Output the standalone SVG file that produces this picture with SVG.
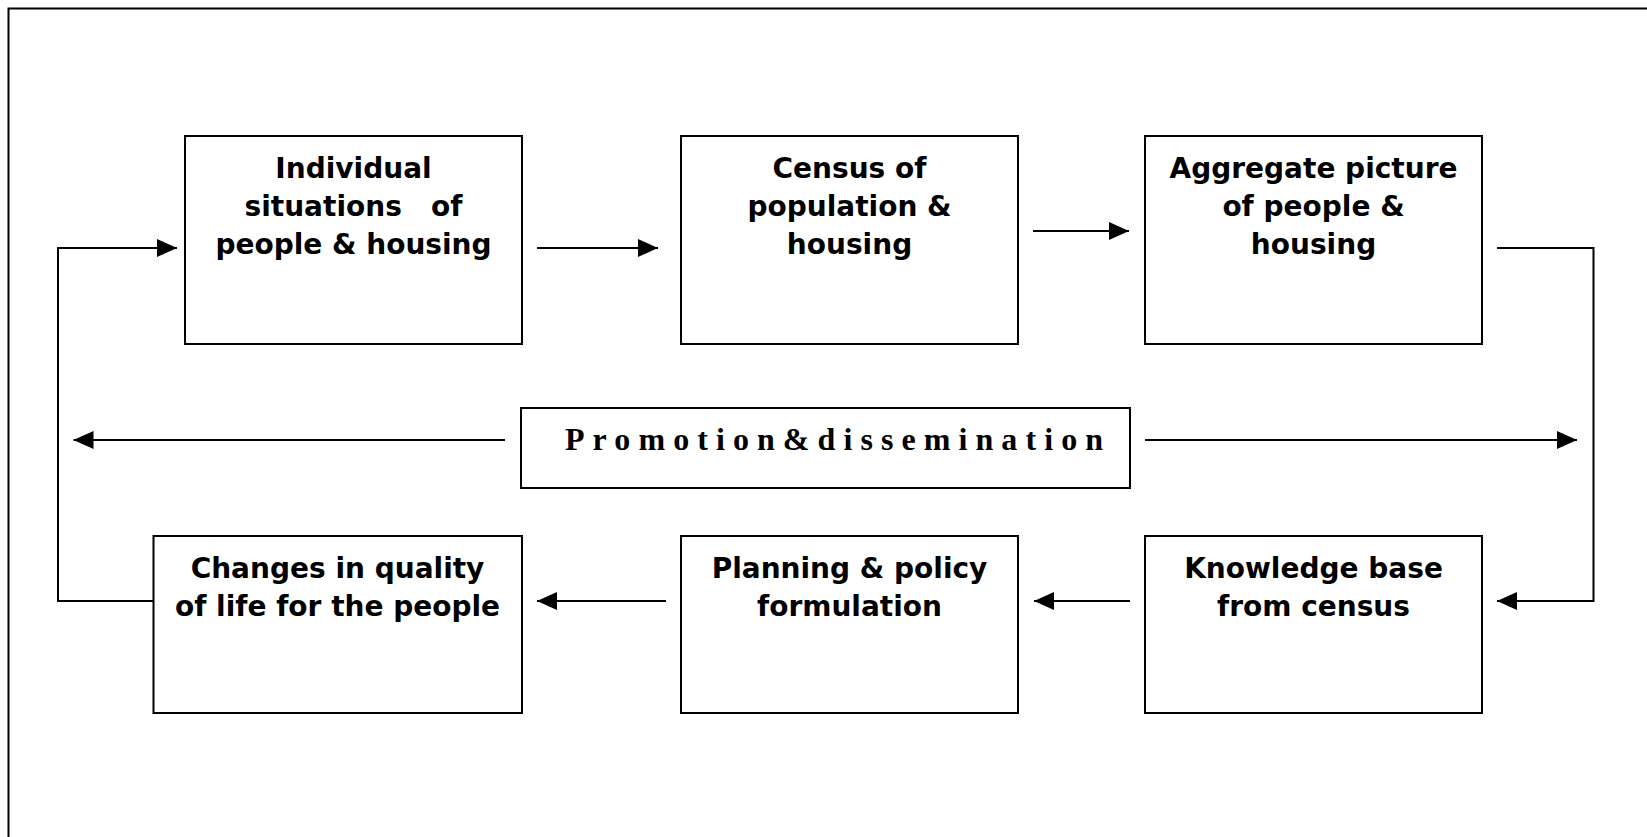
<svg xmlns="http://www.w3.org/2000/svg" width="1647" height="837" viewBox="0 0 1647 837">
<style>
.box{fill:#fff;stroke:#000;stroke-width:2}
.t{font-family:"DejaVu Sans",Verdana,sans-serif;font-weight:bold;font-size:28px;text-anchor:middle;fill:#000}
.p{font-family:"Liberation Serif","Times New Roman",serif;font-weight:bold;font-size:32px;fill:#000}
.c{fill:none;stroke:#000;stroke-width:2}
</style>
<defs>
<marker id="ah" markerWidth="20" markerHeight="18" refX="20" refY="9" orient="auto" markerUnits="userSpaceOnUse">
<path d="M0,0 L20,9 L0,18 Z" fill="#000"/>
</marker>
</defs>
<rect width="1647" height="837" fill="#fff"/>
<path d="M8.5,837 V8.5 H1647" fill="none" stroke="#000" stroke-width="2"/>
<g id="n1"><rect class="box" x="185" y="136" width="337" height="208"/>
<text class="t" x="353.5" y="178" xml:space="preserve"><tspan x="353.5">Individual</tspan><tspan x="353.5" y="216">situations   of</tspan><tspan x="353.5" y="254">people &amp; housing</tspan></text></g>
<g id="n2"><rect class="box" x="681" y="136" width="337" height="208"/>
<text class="t" x="849.5" y="178"><tspan x="849.5">Census of</tspan><tspan x="849.5" y="216">population &amp;</tspan><tspan x="849.5" y="254">housing</tspan></text></g>
<g id="n3"><rect class="box" x="1145" y="136" width="337" height="208"/>
<text class="t" x="1313.5" y="178"><tspan x="1313.5">Aggregate picture</tspan><tspan x="1313.5" y="216">of people &amp;</tspan><tspan x="1313.5" y="254">housing</tspan></text></g>
<g id="promo"><rect class="box" x="521" y="408" width="609" height="80"/>
<text class="p" x="565" y="450" textLength="538" lengthAdjust="spacing">Promotion&amp;dissemination</text></g>
<g id="n4"><rect class="box" x="153.5" y="536" width="368.5" height="177"/>
<text class="t" x="337.5" y="578"><tspan x="337.5">Changes in quality</tspan><tspan x="337.5" y="616">of life for the people</tspan></text></g>
<g id="n5"><rect class="box" x="681" y="536" width="337" height="177"/>
<text class="t" x="849.5" y="578"><tspan x="849.5">Planning &amp; policy</tspan><tspan x="849.5" y="616">formulation</tspan></text></g>
<g id="n6"><rect class="box" x="1145" y="536" width="337" height="177"/>
<text class="t" x="1313.5" y="578"><tspan x="1313.5">Knowledge base</tspan><tspan x="1313.5" y="616">from census</tspan></text></g>
<g id="connectors">
<path class="c" d="M153.5,601 H58 V248 H177" marker-end="url(#ah)"/>
<path class="c" d="M537,248 H658" marker-end="url(#ah)"/>
<path class="c" d="M1033,231 H1129" marker-end="url(#ah)"/>
<path class="c" d="M1497,248 H1593.5 V601 H1497" marker-end="url(#ah)"/>
<path class="c" d="M1130,601 H1034" marker-end="url(#ah)"/>
<path class="c" d="M666,601 H537" marker-end="url(#ah)"/>
<path class="c" d="M505,440 H73.5" marker-end="url(#ah)"/>
<path class="c" d="M1145,440 H1577" marker-end="url(#ah)"/>
</g>
</svg>
